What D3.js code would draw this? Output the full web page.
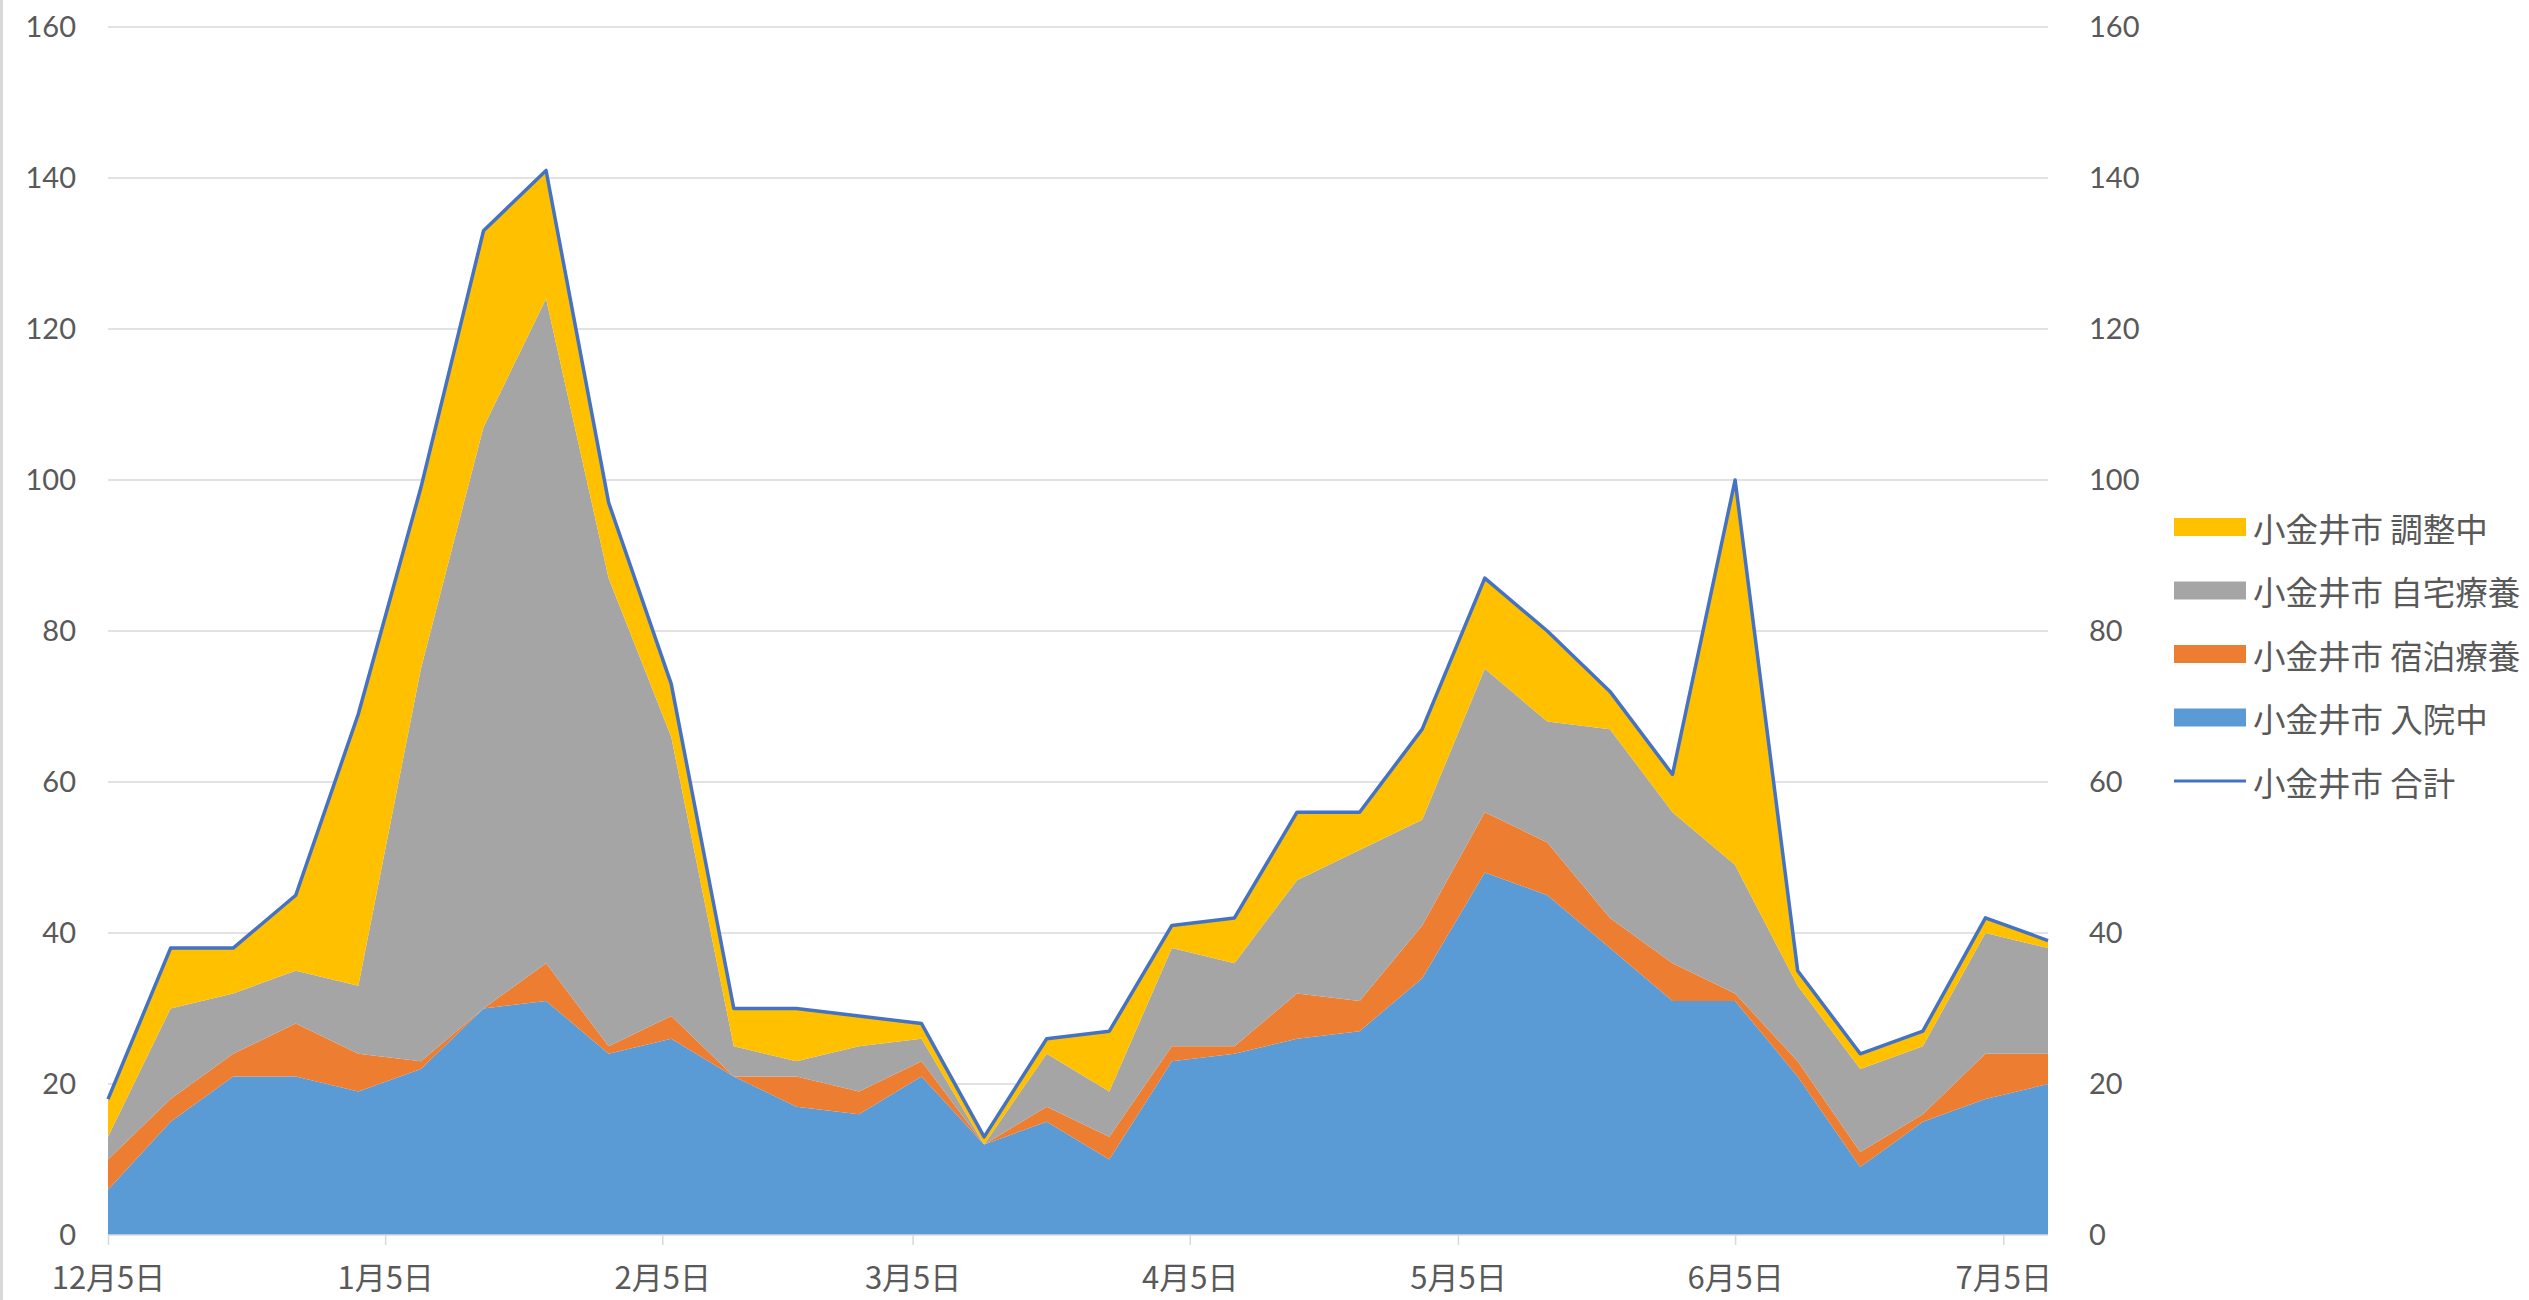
<!DOCTYPE html>
<html lang="ja">
<head>
<meta charset="UTF-8">
<title>小金井市 療養状況</title>
<script src="https://d3js.org/d3.v7.min.js"></script>
<style>
    body { margin: 0; background: #fff; }
    svg { display: block; }
    .axis text { fill: #595959; font-family: Lato, "Noto Sans CJK JP", sans-serif; }
    .legend text { fill: #595959; font-family: "Noto Sans CJK JP", sans-serif; font-size: 32.5px; }
</style>
</head>
<body>
<svg width="2529" height="1300"></svg>
<script>
// weekly dates
const dates = ["2020-12-05","2020-12-12","2020-12-19","2020-12-26","2021-01-02","2021-01-09","2021-01-16","2021-01-23",
               "2021-01-30","2021-02-06","2021-02-13","2021-02-20","2021-02-27","2021-03-06","2021-03-13","2021-03-20",
               "2021-03-27","2021-04-03","2021-04-10","2021-04-17","2021-04-24","2021-05-01","2021-05-08","2021-05-15",
               "2021-05-22","2021-05-29","2021-06-05","2021-06-12","2021-06-19","2021-06-26","2021-07-03","2021-07-10"];

const hospital = [6,15,21,21,19,22,30,31,24,26,21,17,16,21,12,15,10,23,24,26,27,34,48,45,38,31,31,21,9,15,18,20];
const hotel    = [4,3,3,7,5,1,0,5,1,3,0,4,3,2,0,2,3,2,1,6,4,7,8,7,4,5,1,2,2,1,6,4];
const home     = [3,12,8,7,9,52,77,88,62,37,4,2,6,3,0,7,6,13,11,15,20,14,19,16,25,20,17,10,11,9,16,14];
const pending  = [5,8,6,10,36,24,26,17,10,7,5,7,4,2,1,2,8,3,6,9,5,12,12,12,5,5,51,2,2,2,2,1];
const total    = [18,38,38,45,69,99,133,141,97,73,30,30,29,28,13,26,27,41,42,56,56,67,87,80,72,61,100,35,24,27,42,39];

const seriesKeys   = ["hospital", "hotel", "home", "pending"];
const seriesNames  = ["小金井市 入院中", "小金井市 宿泊療養", "小金井市 自宅療養", "小金井市 調整中"];
const seriesColors = ["#5b9bd5", "#ed7d31", "#a5a5a5", "#ffc000"];
const totalName = "小金井市 合計";

const xTickDates  = ["2020-12-05","2021-01-05","2021-02-05","2021-03-05","2021-04-05","2021-05-05","2021-06-05","2021-07-05"];
const xTickLabels = ["12月5日","1月5日","2月5日","3月5日","4月5日","5月5日","6月5日","7月5日"];
const yTicks = [0, 20, 40, 60, 80, 100, 120, 140, 160];

const parse = d3.timeParse("%Y-%m-%d");
const rows = dates.map((d, i) => ({
    date: parse(d), hospital: hospital[i], hotel: hotel[i], home: home[i], pending: pending[i], total: total[i]
}));

const svg = d3.select("svg");
const plotLeft = 108, plotRight = 2048, plotTop = 27, plotBottom = 1235;

const x = d3.scaleTime()
    .domain(d3.extent(rows, d => d.date))
    .range([plotLeft, plotRight]);
const y = d3.scaleLinear()
    .domain([0, 160])
    .range([plotBottom, plotTop]);

// left border
svg.append("rect").attr("x", 0).attr("y", 0).attr("width", 3).attr("height", 1300).attr("fill", "#d9d9d9");

// gridlines
svg.append("g").selectAll("line")
    .data(yTicks.filter(t => t > 0))
    .join("line")
    .attr("x1", plotLeft).attr("x2", plotRight)
    .attr("y1", d => y(d)).attr("y2", d => y(d))
    .attr("stroke", "#d9d9d9").attr("stroke-width", 1.5);

// stacked areas
const stacked = d3.stack().keys(seriesKeys)(rows);
const area = d3.area()
    .x(d => x(d.data.date))
    .y0(d => y(d[0]))
    .y1(d => y(d[1]));

svg.append("g").selectAll("path")
    .data(stacked)
    .join("path")
    .attr("fill", (d, i) => seriesColors[i])
    .attr("d", area);

// total line
const line = d3.line().x(d => x(d.date)).y(d => y(d.total));
svg.append("path")
    .datum(rows)
    .attr("fill", "none")
    .attr("stroke", "#4472c4")
    .attr("stroke-width", 3.5)
    .attr("stroke-linejoin", "round")
    .attr("d", line);

// x axis
const xAxis = svg.append("g")
    .attr("class", "axis")
    .attr("transform", `translate(0,${plotBottom})`)
    .call(d3.axisBottom(x)
        .tickValues(xTickDates.map(parse))
        .tickFormat((d, i) => xTickLabels[i])
        .tickSize(10)
        .tickSizeOuter(0)
        .tickPadding(22));
xAxis.select(".domain").attr("stroke", "#d9d9d9").attr("stroke-width", 1.5)
    .attr("d", `M${plotLeft},0H${plotRight}`);
xAxis.selectAll(".tick line").attr("stroke", "#d9d9d9").attr("stroke-width", 1.5);
xAxis.selectAll("text").style("font-size", "31px").style("font-family", "\"Noto Sans CJK JP\", sans-serif");

// left y axis
const yLeft = svg.append("g")
    .attr("class", "axis")
    .attr("transform", `translate(${plotLeft},0)`)
    .call(d3.axisLeft(y).tickValues(yTicks).tickSize(0).tickPadding(32));
yLeft.select(".domain").remove();
yLeft.selectAll("text").style("font-size", "29px");

// right y axis
const yRight = svg.append("g")
    .attr("class", "axis")
    .attr("transform", `translate(${plotRight},0)`)
    .call(d3.axisRight(y).tickValues(yTicks).tickSize(0).tickPadding(41));
yRight.select(".domain").remove();
yRight.selectAll("text").style("font-size", "29px");

// legend
const legendItems = [
    {name: seriesNames[3], color: seriesColors[3], type: "area"},
    {name: seriesNames[2], color: seriesColors[2], type: "area"},
    {name: seriesNames[1], color: seriesColors[1], type: "area"},
    {name: seriesNames[0], color: seriesColors[0], type: "area"},
    {name: totalName, color: "#4472c4", type: "line"}
];
const legend = svg.append("g").attr("class", "legend");
const lg = legend.selectAll("g")
    .data(legendItems)
    .join("g")
    .attr("transform", (d, i) => `translate(2174,${527 + i * 63.5})`);
lg.filter(d => d.type === "area").append("rect")
    .attr("x", 0).attr("y", -9).attr("width", 72).attr("height", 18)
    .attr("fill", d => d.color);
lg.filter(d => d.type === "line").append("line")
    .attr("x1", 0).attr("x2", 72).attr("y1", 0).attr("y2", 0)
    .attr("stroke", d => d.color).attr("stroke-width", 3);
lg.append("text")
    .attr("x", 79).attr("y", 0)
    .attr("dominant-baseline", "central")
    .text(d => d.name);
</script>
</body>
</html>
